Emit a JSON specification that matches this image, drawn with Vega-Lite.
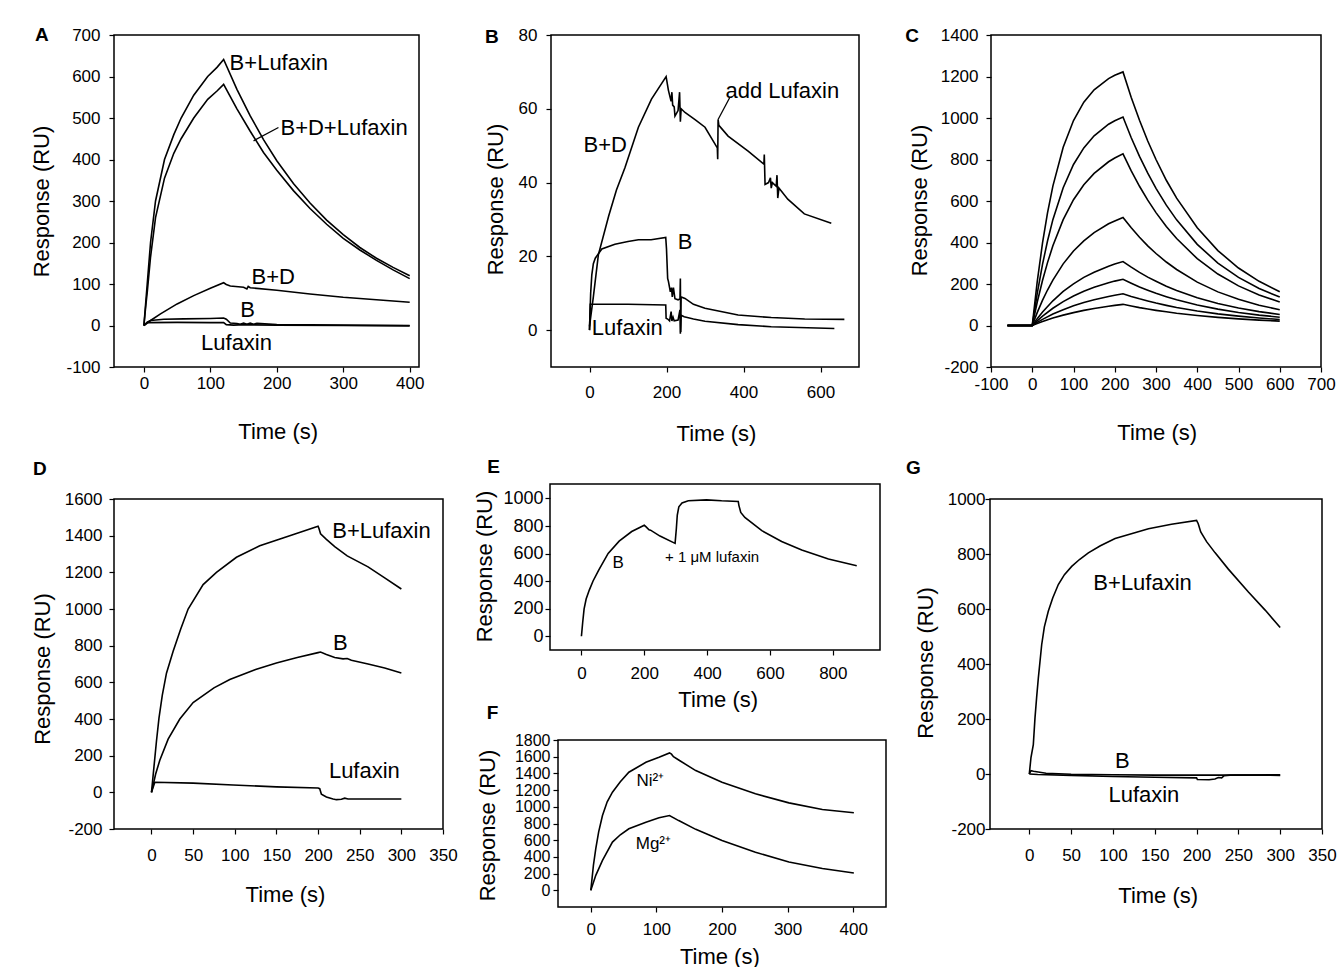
{
  "$schema": "https://vega.github.io/schema/vega-lite/v6.json",
  "background": "white",
  "padding": {"left": 29, "top": 25, "right": 5, "bottom": 0},
  "config": {
    "font": "Liberation Sans",
    "view": {"stroke": "black", "strokeWidth": 1.5},
    "axis": {"grid": false, "domain": false, "ticks": true, "tickColor": "black", "tickSize": 5, "tickWidth": 1.2, "labelColor": "black", "labelFontSize": 17, "labelFont": "Liberation Sans", "titleFont": "Liberation Sans", "titleFontSize": 22, "titleFontWeight": "normal", "titleColor": "black", "titleBaseline": "middle", "labelOverlap": false, "labelFlush": false, "labelBound": false},
    "line": {"color": "black", "strokeWidth": 1.6},
    "rule": {"color": "black", "strokeWidth": 1.3},
    "text": {"color": "black", "font": "Liberation Sans"}
  },
  "datasets": {
    "A": [
      {"s":"a1","t":0,"v":0},{"s":"a1","t":3,"v":60},{"s":"a1","t":5,"v":100},{"s":"a1","t":10,"v":200},{"s":"a1","t":17.5,"v":300},{"s":"a1","t":31,"v":400},{"s":"a1","t":45,"v":460},{"s":"a1","t":56,"v":500},{"s":"a1","t":75,"v":555},{"s":"a1","t":96,"v":600},{"s":"a1","t":110,"v":622},{"s":"a1","t":120,"v":641},{"s":"a1","t":140,"v":569},{"s":"a1","t":160,"v":505},{"s":"a1","t":180,"v":448},{"s":"a1","t":200,"v":397},{"s":"a1","t":225,"v":342},{"s":"a1","t":250,"v":295},{"s":"a1","t":275,"v":254},{"s":"a1","t":300,"v":219},{"s":"a1","t":325,"v":188},{"s":"a1","t":350,"v":162},{"s":"a1","t":375,"v":140},{"s":"a1","t":400,"v":120},
      {"s":"a2","t":0,"v":0},{"s":"a2","t":3,"v":50},{"s":"a2","t":5,"v":80},{"s":"a2","t":10,"v":165},{"s":"a2","t":17.5,"v":260},{"s":"a2","t":31,"v":355},{"s":"a2","t":45,"v":415},{"s":"a2","t":56,"v":450},{"s":"a2","t":75,"v":500},{"s":"a2","t":96,"v":545},{"s":"a2","t":110,"v":565},{"s":"a2","t":120,"v":581},{"s":"a2","t":140,"v":522},{"s":"a2","t":160,"v":468},{"s":"a2","t":180,"v":417},{"s":"a2","t":200,"v":374},{"s":"a2","t":225,"v":325},{"s":"a2","t":250,"v":282},{"s":"a2","t":275,"v":244},{"s":"a2","t":300,"v":210},{"s":"a2","t":325,"v":182},{"s":"a2","t":350,"v":157},{"s":"a2","t":375,"v":134},{"s":"a2","t":400,"v":113},
      {"s":"a3","t":0,"v":0},{"s":"a3","t":10,"v":12},{"s":"a3","t":25,"v":28},{"s":"a3","t":50,"v":52},{"s":"a3","t":75,"v":72},{"s":"a3","t":100,"v":90},{"s":"a3","t":120,"v":103},{"s":"a3","t":124,"v":99},{"s":"a3","t":130,"v":95},{"s":"a3","t":150,"v":92},{"s":"a3","t":155,"v":88},{"s":"a3","t":157,"v":94},{"s":"a3","t":160,"v":91},{"s":"a3","t":200,"v":85},{"s":"a3","t":250,"v":76},{"s":"a3","t":300,"v":68},{"s":"a3","t":350,"v":62},{"s":"a3","t":400,"v":56},
      {"s":"a4","t":0,"v":0},{"s":"a4","t":5,"v":8},{"s":"a4","t":10,"v":12},{"s":"a4","t":30,"v":15},{"s":"a4","t":60,"v":16},{"s":"a4","t":100,"v":17},{"s":"a4","t":120,"v":18},{"s":"a4","t":124,"v":15},{"s":"a4","t":130,"v":6},{"s":"a4","t":140,"v":5},{"s":"a4","t":145,"v":3},{"s":"a4","t":150,"v":6},{"s":"a4","t":155,"v":3},{"s":"a4","t":160,"v":6},{"s":"a4","t":165,"v":3},{"s":"a4","t":170,"v":5},{"s":"a4","t":200,"v":2},{"s":"a4","t":300,"v":1},{"s":"a4","t":400,"v":0},
      {"s":"a5","t":0,"v":0},{"s":"a5","t":5,"v":7},{"s":"a5","t":50,"v":7.5},{"s":"a5","t":100,"v":7},{"s":"a5","t":120,"v":7},{"s":"a5","t":124,"v":2},{"s":"a5","t":135,"v":1},{"s":"a5","t":150,"v":2},{"s":"a5","t":200,"v":0.5},{"s":"a5","t":300,"v":0},{"s":"a5","t":400,"v":-1}
    ],
    "AL": [
      {"label":"B+Lufaxin","t":129,"v":632},
      {"label":"B+D+Lufaxin","t":205.5,"v":475},
      {"label":"B+D","t":162,"v":117},
      {"label":"B","t":145,"v":38},
      {"label":"Lufaxin","t":86,"v":-43}
    ],
    "ALL": [{"t":165,"v":445,"t2":202.5,"v2":477}],
    "B": [
      {"s":"b1","t":0,"v":1},{"s":"b1","t":10,"v":9},{"s":"b1","t":23,"v":20.4},{"s":"b1","t":50,"v":31},{"s":"b1","t":70,"v":38},{"s":"b1","t":92,"v":44},{"s":"b1","t":127,"v":55},{"s":"b1","t":161,"v":62.6},{"s":"b1","t":199,"v":68.7},{"s":"b1","t":205,"v":65},{"s":"b1","t":212,"v":62},{"s":"b1","t":214,"v":64.5},{"s":"b1","t":216,"v":61},{"s":"b1","t":220,"v":60.5},{"s":"b1","t":222,"v":58},{"s":"b1","t":230,"v":59.5},{"s":"b1","t":234,"v":64.5},{"s":"b1","t":236,"v":56.5},{"s":"b1","t":238,"v":60},{"s":"b1","t":248,"v":59},{"s":"b1","t":275,"v":57},{"s":"b1","t":300,"v":55},{"s":"b1","t":332,"v":49.4},{"s":"b1","t":333,"v":46.3},{"s":"b1","t":334,"v":57.1},{"s":"b1","t":336,"v":55.5},{"s":"b1","t":360,"v":52.6},{"s":"b1","t":412,"v":48.5},{"s":"b1","t":453,"v":45},{"s":"b1","t":454,"v":47.6},{"s":"b1","t":456,"v":39.5},{"s":"b1","t":465,"v":40},{"s":"b1","t":470,"v":41.3},{"s":"b1","t":472,"v":38.5},{"s":"b1","t":475,"v":40},{"s":"b1","t":485,"v":39},{"s":"b1","t":487,"v":42},{"s":"b1","t":489,"v":35.8},{"s":"b1","t":492,"v":38.5},{"s":"b1","t":515,"v":35.5},{"s":"b1","t":558,"v":31.5},{"s":"b1","t":628,"v":29},
      {"s":"b2","t":0,"v":0},{"s":"b2","t":3,"v":10},{"s":"b2","t":6,"v":15},{"s":"b2","t":10,"v":18},{"s":"b2","t":15,"v":19.5},{"s":"b2","t":32,"v":22},{"s":"b2","t":66,"v":23.3},{"s":"b2","t":100,"v":24},{"s":"b2","t":127,"v":24.5},{"s":"b2","t":160,"v":24.5},{"s":"b2","t":198,"v":25.1},{"s":"b2","t":200,"v":22},{"s":"b2","t":203,"v":14},{"s":"b2","t":205,"v":13.2},{"s":"b2","t":210,"v":10.4},{"s":"b2","t":213,"v":11.5},{"s":"b2","t":215,"v":9},{"s":"b2","t":218,"v":11.5},{"s":"b2","t":222,"v":8.5},{"s":"b2","t":230,"v":8.2},{"s":"b2","t":235,"v":8.5},{"s":"b2","t":236,"v":14},{"s":"b2","t":237,"v":-0.5},{"s":"b2","t":238,"v":9},{"s":"b2","t":248,"v":8.6},{"s":"b2","t":270,"v":7},{"s":"b2","t":300,"v":5.9},{"s":"b2","t":386,"v":4.1},{"s":"b2","t":472,"v":3.4},{"s":"b2","t":559,"v":3},{"s":"b2","t":662,"v":2.9},
      {"s":"b3","t":0,"v":0},{"s":"b3","t":2,"v":7},{"s":"b3","t":20,"v":7},{"s":"b3","t":100,"v":7},{"s":"b3","t":198,"v":6.8},{"s":"b3","t":199,"v":3.2},{"s":"b3","t":203,"v":3},{"s":"b3","t":208,"v":2.5},{"s":"b3","t":212,"v":5},{"s":"b3","t":214,"v":2.5},{"s":"b3","t":217,"v":3.5},{"s":"b3","t":220,"v":2.5},{"s":"b3","t":230,"v":2.7},{"s":"b3","t":235,"v":5.5},{"s":"b3","t":236,"v":-1},{"s":"b3","t":238,"v":4},{"s":"b3","t":246,"v":3.6},{"s":"b3","t":270,"v":3},{"s":"b3","t":300,"v":2.4},{"s":"b3","t":386,"v":1.5},{"s":"b3","t":472,"v":0.9},{"s":"b3","t":636,"v":0.45}
    ],
    "BL": [
      {"label":"B+D","t":-15.5,"v":50.2},
      {"label":"add Lufaxin","t":353,"v":64.7},
      {"label":"B","t":229,"v":24},
      {"label":"Lufaxin","t":6,"v":0.6}
    ],
    "BLL": [{"t":334,"v":57.1,"t2":365,"v2":63.2}],
    "C": [
      {"s":"c1","t":-60,"v":0},{"s":"c1","t":0,"v":0},{"s":"c1","t":12,"v":210},{"s":"c1","t":25,"v":399},{"s":"c1","t":37,"v":543},{"s":"c1","t":50,"v":672},{"s":"c1","t":75,"v":859},{"s":"c1","t":100,"v":988},{"s":"c1","t":125,"v":1076},{"s":"c1","t":150,"v":1136},{"s":"c1","t":185,"v":1190},{"s":"c1","t":200,"v":1206},{"s":"c1","t":220,"v":1222},{"s":"c1","t":240,"v":1099},{"s":"c1","t":260,"v":989},{"s":"c1","t":280,"v":889},{"s":"c1","t":300,"v":800},{"s":"c1","t":325,"v":700},{"s":"c1","t":350,"v":614},{"s":"c1","t":400,"v":471},{"s":"c1","t":450,"v":361},{"s":"c1","t":500,"v":277},{"s":"c1","t":550,"v":213},{"s":"c1","t":600,"v":163},
      {"s":"c2","t":-60,"v":0},{"s":"c2","t":0,"v":0},{"s":"c2","t":12,"v":154},{"s":"c2","t":25,"v":296},{"s":"c2","t":37,"v":407},{"s":"c2","t":50,"v":510},{"s":"c2","t":75,"v":664},{"s":"c2","t":100,"v":776},{"s":"c2","t":125,"v":856},{"s":"c2","t":150,"v":914},{"s":"c2","t":185,"v":970},{"s":"c2","t":200,"v":987},{"s":"c2","t":220,"v":1005},{"s":"c2","t":240,"v":905},{"s":"c2","t":260,"v":815},{"s":"c2","t":280,"v":734},{"s":"c2","t":300,"v":661},{"s":"c2","t":325,"v":580},{"s":"c2","t":350,"v":509},{"s":"c2","t":400,"v":391},{"s":"c2","t":450,"v":301},{"s":"c2","t":500,"v":232},{"s":"c2","t":550,"v":178},{"s":"c2","t":600,"v":137},
      {"s":"c3","t":-60,"v":0},{"s":"c3","t":0,"v":0},{"s":"c3","t":12,"v":112},{"s":"c3","t":25,"v":218},{"s":"c3","t":37,"v":303},{"s":"c3","t":50,"v":384},{"s":"c3","t":75,"v":510},{"s":"c3","t":100,"v":606},{"s":"c3","t":125,"v":678},{"s":"c3","t":150,"v":733},{"s":"c3","t":185,"v":789},{"s":"c3","t":200,"v":807},{"s":"c3","t":220,"v":827},{"s":"c3","t":240,"v":745},{"s":"c3","t":260,"v":671},{"s":"c3","t":280,"v":604},{"s":"c3","t":300,"v":544},{"s":"c3","t":325,"v":477},{"s":"c3","t":350,"v":419},{"s":"c3","t":400,"v":322},{"s":"c3","t":450,"v":248},{"s":"c3","t":500,"v":191},{"s":"c3","t":550,"v":147},{"s":"c3","t":600,"v":113},
      {"s":"c4","t":-60,"v":0},{"s":"c4","t":0,"v":0},{"s":"c4","t":12,"v":62},{"s":"c4","t":25,"v":122},{"s":"c4","t":37,"v":171},{"s":"c4","t":50,"v":219},{"s":"c4","t":75,"v":297},{"s":"c4","t":100,"v":359},{"s":"c4","t":125,"v":408},{"s":"c4","t":150,"v":448},{"s":"c4","t":185,"v":490},{"s":"c4","t":200,"v":504},{"s":"c4","t":220,"v":521},{"s":"c4","t":240,"v":471},{"s":"c4","t":260,"v":425},{"s":"c4","t":280,"v":384},{"s":"c4","t":300,"v":347},{"s":"c4","t":325,"v":306},{"s":"c4","t":350,"v":270},{"s":"c4","t":400,"v":209},{"s":"c4","t":450,"v":162},{"s":"c4","t":500,"v":126},{"s":"c4","t":550,"v":98},{"s":"c4","t":600,"v":76},
      {"s":"c5","t":-60,"v":0},{"s":"c5","t":0,"v":0},{"s":"c5","t":12,"v":33},{"s":"c5","t":25,"v":65},{"s":"c5","t":50,"v":119},{"s":"c5","t":75,"v":164},{"s":"c5","t":100,"v":201},{"s":"c5","t":125,"v":232},{"s":"c5","t":150,"v":257},{"s":"c5","t":185,"v":286},{"s":"c5","t":200,"v":296},{"s":"c5","t":220,"v":308},{"s":"c5","t":240,"v":281},{"s":"c5","t":260,"v":256},{"s":"c5","t":280,"v":233},{"s":"c5","t":300,"v":213},{"s":"c5","t":325,"v":189},{"s":"c5","t":350,"v":169},{"s":"c5","t":400,"v":134},{"s":"c5","t":450,"v":106},{"s":"c5","t":500,"v":84},{"s":"c5","t":550,"v":67},{"s":"c5","t":600,"v":53},
      {"s":"c6","t":-60,"v":0},{"s":"c6","t":0,"v":0},{"s":"c6","t":12,"v":22.5},{"s":"c6","t":25,"v":45},{"s":"c6","t":50,"v":83},{"s":"c6","t":75,"v":115},{"s":"c6","t":100,"v":142},{"s":"c6","t":125,"v":165},{"s":"c6","t":150,"v":184},{"s":"c6","t":185,"v":206},{"s":"c6","t":200,"v":214},{"s":"c6","t":220,"v":223},{"s":"c6","t":240,"v":204},{"s":"c6","t":260,"v":186},{"s":"c6","t":280,"v":170},{"s":"c6","t":300,"v":155},{"s":"c6","t":325,"v":139},{"s":"c6","t":350,"v":124},{"s":"c6","t":400,"v":99},{"s":"c6","t":450,"v":79},{"s":"c6","t":500,"v":63},{"s":"c6","t":550,"v":50},{"s":"c6","t":600,"v":40},
      {"s":"c7","t":-60,"v":0},{"s":"c7","t":0,"v":0},{"s":"c7","t":12,"v":15},{"s":"c7","t":25,"v":29.5},{"s":"c7","t":50,"v":55},{"s":"c7","t":75,"v":76},{"s":"c7","t":100,"v":95},{"s":"c7","t":125,"v":111},{"s":"c7","t":150,"v":124},{"s":"c7","t":185,"v":140},{"s":"c7","t":200,"v":146},{"s":"c7","t":220,"v":153},{"s":"c7","t":240,"v":140},{"s":"c7","t":260,"v":128.5},{"s":"c7","t":280,"v":118},{"s":"c7","t":300,"v":108},{"s":"c7","t":325,"v":97},{"s":"c7","t":350,"v":87},{"s":"c7","t":400,"v":70},{"s":"c7","t":450,"v":56},{"s":"c7","t":500,"v":45},{"s":"c7","t":550,"v":36},{"s":"c7","t":600,"v":29},
      {"s":"c8","t":-60,"v":0},{"s":"c8","t":0,"v":0},{"s":"c8","t":12,"v":9.5},{"s":"c8","t":25,"v":19},{"s":"c8","t":50,"v":36},{"s":"c8","t":75,"v":50},{"s":"c8","t":100,"v":62},{"s":"c8","t":125,"v":73},{"s":"c8","t":150,"v":82},{"s":"c8","t":185,"v":93},{"s":"c8","t":200,"v":97},{"s":"c8","t":220,"v":102},{"s":"c8","t":240,"v":94},{"s":"c8","t":260,"v":86},{"s":"c8","t":280,"v":79.5},{"s":"c8","t":300,"v":73},{"s":"c8","t":325,"v":66},{"s":"c8","t":350,"v":59},{"s":"c8","t":400,"v":48},{"s":"c8","t":450,"v":39},{"s":"c8","t":500,"v":32},{"s":"c8","t":550,"v":26},{"s":"c8","t":600,"v":21}
    ],
    "D": [
      {"s":"d1","t":0,"v":0},{"s":"d1","t":3,"v":140},{"s":"d1","t":6,"v":280},{"s":"d1","t":9,"v":405},{"s":"d1","t":13,"v":530},{"s":"d1","t":18,"v":650},{"s":"d1","t":26,"v":769},{"s":"d1","t":35,"v":890},{"s":"d1","t":44,"v":1000},{"s":"d1","t":62,"v":1133},{"s":"d1","t":78,"v":1200},{"s":"d1","t":102,"v":1282},{"s":"d1","t":130,"v":1345},{"s":"d1","t":166,"v":1400},{"s":"d1","t":200,"v":1451},{"s":"d1","t":201,"v":1440},{"s":"d1","t":203,"v":1410},{"s":"d1","t":210,"v":1380},{"s":"d1","t":220,"v":1340},{"s":"d1","t":235,"v":1290},{"s":"d1","t":260,"v":1230},{"s":"d1","t":280,"v":1170},{"s":"d1","t":300,"v":1109},
      {"s":"d2","t":0,"v":0},{"s":"d2","t":5,"v":100},{"s":"d2","t":10,"v":175},{"s":"d2","t":20,"v":290},{"s":"d2","t":34,"v":400},{"s":"d2","t":50,"v":490},{"s":"d2","t":75,"v":570},{"s":"d2","t":94,"v":615},{"s":"d2","t":125,"v":670},{"s":"d2","t":150,"v":705},{"s":"d2","t":175,"v":735},{"s":"d2","t":200,"v":762},{"s":"d2","t":203,"v":765},{"s":"d2","t":210,"v":752},{"s":"d2","t":220,"v":735},{"s":"d2","t":230,"v":728},{"s":"d2","t":235,"v":730},{"s":"d2","t":240,"v":720},{"s":"d2","t":260,"v":700},{"s":"d2","t":280,"v":678},{"s":"d2","t":300,"v":651},
      {"s":"d3","t":0,"v":0},{"s":"d3","t":4,"v":55},{"s":"d3","t":50,"v":50},{"s":"d3","t":98,"v":40},{"s":"d3","t":150,"v":30},{"s":"d3","t":200,"v":24},{"s":"d3","t":202,"v":20},{"s":"d3","t":204,"v":-10},{"s":"d3","t":210,"v":-25},{"s":"d3","t":218,"v":-36},{"s":"d3","t":222,"v":-40},{"s":"d3","t":228,"v":-38},{"s":"d3","t":232,"v":-32},{"s":"d3","t":236,"v":-36},{"s":"d3","t":300,"v":-36}
    ],
    "DL": [
      {"label":"B+Lufaxin","t":217,"v":1424},
      {"label":"B","t":218,"v":815},
      {"label":"Lufaxin","t":213,"v":115}
    ],
    "E": [
      {"s":"e1","t":0,"v":0},{"s":"e1","t":4,"v":100},{"s":"e1","t":8.5,"v":198},{"s":"e1","t":15,"v":270},{"s":"e1","t":25,"v":335},{"s":"e1","t":37,"v":401},{"s":"e1","t":55,"v":480},{"s":"e1","t":85,"v":601},{"s":"e1","t":120,"v":690},{"s":"e1","t":160,"v":760},{"s":"e1","t":200,"v":805},{"s":"e1","t":205,"v":795},{"s":"e1","t":215,"v":772},{"s":"e1","t":220,"v":770},{"s":"e1","t":250,"v":727},{"s":"e1","t":298,"v":674},{"s":"e1","t":302,"v":780},{"s":"e1","t":305,"v":880},{"s":"e1","t":310,"v":940},{"s":"e1","t":320,"v":968},{"s":"e1","t":340,"v":983},{"s":"e1","t":398,"v":990},{"s":"e1","t":446,"v":983},{"s":"e1","t":499,"v":978},{"s":"e1","t":501,"v":950},{"s":"e1","t":507,"v":899},{"s":"e1","t":520,"v":862},{"s":"e1","t":574,"v":766},{"s":"e1","t":637,"v":688},{"s":"e1","t":701,"v":626},{"s":"e1","t":786,"v":560},{"s":"e1","t":876,"v":512}
    ],
    "F": [
      {"s":"f1","t":0,"v":0},{"s":"f1","t":4,"v":300},{"s":"f1","t":7.6,"v":498},{"s":"f1","t":12,"v":700},{"s":"f1","t":17.8,"v":896},{"s":"f1","t":25,"v":1060},{"s":"f1","t":33,"v":1175},{"s":"f1","t":45,"v":1300},{"s":"f1","t":58,"v":1414},{"s":"f1","t":84,"v":1533},{"s":"f1","t":104,"v":1593},{"s":"f1","t":120,"v":1645},{"s":"f1","t":123,"v":1630},{"s":"f1","t":126,"v":1600},{"s":"f1","t":134,"v":1560},{"s":"f1","t":160,"v":1434},{"s":"f1","t":200,"v":1294},{"s":"f1","t":251,"v":1155},{"s":"f1","t":302,"v":1047},{"s":"f1","t":353,"v":968},{"s":"f1","t":401,"v":928},
      {"s":"f2","t":0,"v":0},{"s":"f2","t":7.6,"v":179},{"s":"f2","t":17.8,"v":358},{"s":"f2","t":33,"v":577},{"s":"f2","t":45,"v":665},{"s":"f2","t":58,"v":737},{"s":"f2","t":84,"v":816},{"s":"f2","t":104,"v":868},{"s":"f2","t":120,"v":896},{"s":"f2","t":134,"v":835},{"s":"f2","t":160,"v":730},{"s":"f2","t":200,"v":597},{"s":"f2","t":251,"v":455},{"s":"f2","t":302,"v":339},{"s":"f2","t":353,"v":262},{"s":"f2","t":401,"v":207}
    ],
    "G": [
      {"s":"g1","t":0,"v":0},{"s":"g1","t":2,"v":60},{"s":"g1","t":4.8,"v":107},{"s":"g1","t":6.8,"v":204},{"s":"g1","t":8.8,"v":280},{"s":"g1","t":10.8,"v":349},{"s":"g1","t":14.8,"v":470},{"s":"g1","t":18,"v":535},{"s":"g1","t":22.7,"v":592},{"s":"g1","t":28,"v":640},{"s":"g1","t":34.7,"v":689},{"s":"g1","t":42,"v":725},{"s":"g1","t":50.7,"v":755},{"s":"g1","t":60,"v":780},{"s":"g1","t":70.6,"v":804},{"s":"g1","t":85,"v":830},{"s":"g1","t":102.6,"v":856},{"s":"g1","t":120,"v":872},{"s":"g1","t":142.5,"v":892},{"s":"g1","t":170,"v":908},{"s":"g1","t":200,"v":922},{"s":"g1","t":202,"v":910},{"s":"g1","t":205,"v":880},{"s":"g1","t":212,"v":845},{"s":"g1","t":222,"v":805},{"s":"g1","t":238,"v":745},{"s":"g1","t":262,"v":662},{"s":"g1","t":282,"v":596},{"s":"g1","t":300,"v":533},
      {"s":"g2","t":0,"v":0},{"s":"g2","t":2,"v":12},{"s":"g2","t":5,"v":10},{"s":"g2","t":20,"v":3},{"s":"g2","t":50,"v":-1},{"s":"g2","t":100,"v":-3},{"s":"g2","t":150,"v":-4},{"s":"g2","t":200,"v":-4},{"s":"g2","t":250,"v":-4},{"s":"g2","t":300,"v":-5},
      {"s":"g3","t":0,"v":0},{"s":"g3","t":10,"v":-2},{"s":"g3","t":50,"v":-5},{"s":"g3","t":100,"v":-9},{"s":"g3","t":150,"v":-12},{"s":"g3","t":200,"v":-14},{"s":"g3","t":201,"v":-20},{"s":"g3","t":215,"v":-21},{"s":"g3","t":222,"v":-18},{"s":"g3","t":226,"v":-13},{"s":"g3","t":230,"v":-14},{"s":"g3","t":233,"v":-6},{"s":"g3","t":240,"v":-4},{"s":"g3","t":300,"v":-3}
    ],
    "GL": [
      {"label":"B+Lufaxin","t":76.6,"v":695},
      {"label":"B","t":102.6,"v":48},
      {"label":"Lufaxin","t":94.6,"v":-75}
    ],
    "LET": [
      {"label":"A","t":-153.7,"v":700},
      {"label":"B","t":-253.9,"v":79.4},
      {"label":"C","t":-291.5,"v":1395},
      {"label":"D","t":-134.1,"v":1762},
      {"label":"E","t":-279.8,"v":1229.7},
      {"label":"F","t":-283,"v":-560},
      {"label":"G","t":-138.6,"v":1111.6}
    ]
  },
  "vconcat": [
    {
      "hconcat": [
        {
          "width": 305, "height": 332,
          "encoding": {
            "x": {"field": "t", "type": "quantitative", "scale": {"domain": [-45, 414], "nice": false, "zero": false}, "axis": {"values": [0, 100, 200, 300, 400], "title": "Time (s)", "titleX": 163.7, "titleY": 64, "labelPadding": 3, "labelExpr": "'' + datum.value"}},
            "y": {"field": "v", "type": "quantitative", "scale": {"domain": [-100, 700], "nice": false, "zero": false}, "axis": {"values": [-100, 0, 100, 200, 300, 400, 500, 600, 700], "title": "Response (RU)", "titleX": -73, "titleY": 166, "labelPadding": 9, "labelExpr": "'' + datum.value"}}
          },
          "layer": [
            {"data": {"name": "A"}, "mark": {"type": "line"}, "encoding": {"detail": {"field": "s", "type": "nominal"}}},
            {"data": {"name": "AL"}, "mark": {"type": "text", "align": "left", "baseline": "middle", "fontSize": 22}, "encoding": {"text": {"field": "label"}}},
            {"data": {"name": "ALL"}, "mark": {"type": "rule"}, "encoding": {"x2": {"field": "t2"}, "y2": {"field": "v2"}}},
            {"data": {"name": "LET"}, "transform": [{"filter": "datum.label == 'A'"}], "mark": {"type": "text", "align": "center", "baseline": "middle", "fontSize": 19, "fontWeight": "bold"}, "encoding": {"text": {"field": "label"}}}
          ]
        },
        {
          "width": 308, "height": 332,
          "encoding": {
            "x": {"field": "t", "type": "quantitative", "scale": {"domain": [-100, 700], "nice": false, "zero": false}, "axis": {"values": [0, 200, 400, 600], "title": "Time (s)", "titleX": 165, "titleY": 66, "labelPadding": 12, "labelExpr": "'' + datum.value"}},
            "y": {"field": "v", "type": "quantitative", "scale": {"domain": [-10, 80], "nice": false, "zero": false}, "axis": {"values": [0, 20, 40, 60, 80], "title": "Response (RU)", "titleX": -56, "titleY": 164, "labelPadding": 9, "labelExpr": "'' + datum.value"}}
          },
          "layer": [
            {"data": {"name": "B"}, "mark": {"type": "line"}, "encoding": {"detail": {"field": "s", "type": "nominal"}}},
            {"data": {"name": "BL"}, "mark": {"type": "text", "align": "left", "baseline": "middle", "fontSize": 22}, "encoding": {"text": {"field": "label"}}},
            {"data": {"name": "BLL"}, "mark": {"type": "rule"}, "encoding": {"x2": {"field": "t2"}, "y2": {"field": "v2"}}},
            {"data": {"name": "LET"}, "transform": [{"filter": "datum.label == 'B'"}], "mark": {"type": "text", "align": "center", "baseline": "middle", "fontSize": 19, "fontWeight": "bold"}, "encoding": {"text": {"field": "label"}}}
          ]
        },
        {
          "width": 330, "height": 332,
          "encoding": {
            "x": {"field": "t", "type": "quantitative", "scale": {"domain": [-100, 700], "nice": false, "zero": false}, "axis": {"values": [-100, 0, 100, 200, 300, 400, 500, 600, 700], "title": "Time (s)", "titleX": 165.7, "titleY": 65, "labelPadding": 4, "labelExpr": "'' + datum.value"}},
            "y": {"field": "v", "type": "quantitative", "scale": {"domain": [-200, 1400], "nice": false, "zero": false}, "axis": {"values": [-200, 0, 200, 400, 600, 800, 1000, 1200, 1400], "title": "Response (RU)", "titleX": -71.5, "titleY": 165, "labelPadding": 8, "labelExpr": "'' + datum.value"}}
          },
          "layer": [
            {"data": {"name": "C"}, "mark": {"type": "line"}, "encoding": {"detail": {"field": "s", "type": "nominal"}}},
            {"data": {"name": "LET"}, "transform": [{"filter": "datum.label == 'C'"}], "mark": {"type": "text", "align": "center", "baseline": "middle", "fontSize": 19, "fontWeight": "bold"}, "encoding": {"text": {"field": "label"}}}
          ]
        }
      ],
      "spacing": 132,
      "bounds": "flush"
    },
    {
      "hconcat": [
        {
          "hconcat": [
            {
              "vconcat": [
                {"width": 1, "height": 15, "data": {"values": []}, "mark": {"type": "point", "opacity": 0}, "view": {"stroke": null}},
                {
                  "width": 329, "height": 330,
                  "encoding": {
                    "x": {"field": "t", "type": "quantitative", "scale": {"domain": [-45, 350], "nice": false, "zero": false}, "axis": {"values": [0, 50, 100, 150, 200, 250, 300, 350], "title": "Time (s)", "titleX": 171, "titleY": 65, "labelPadding": 13, "labelExpr": "'' + datum.value"}},
                    "y": {"field": "v", "type": "quantitative", "scale": {"domain": [-200, 1600], "nice": false, "zero": false}, "axis": {"values": [-200, 0, 200, 400, 600, 800, 1000, 1200, 1400, 1600], "title": "Response (RU)", "titleX": -71.5, "titleY": 169.5, "labelPadding": 7, "labelExpr": "'' + datum.value"}}
                  },
                  "layer": [
                    {"data": {"name": "D"}, "mark": {"type": "line"}, "encoding": {"detail": {"field": "s", "type": "nominal"}}},
                    {"data": {"name": "DL"}, "mark": {"type": "text", "align": "left", "baseline": "middle", "fontSize": 22}, "encoding": {"text": {"field": "label"}}},
                    {"data": {"name": "LET"}, "transform": [{"filter": "datum.label == 'D'"}], "mark": {"type": "text", "align": "center", "baseline": "middle", "fontSize": 19, "fontWeight": "bold"}, "encoding": {"text": {"field": "label"}}}
                  ]
                }
              ],
              "spacing": 0,
              "bounds": "flush"
            },
            {
              "vconcat": [
                {
                  "width": 330, "height": 166,
                  "encoding": {
                    "x": {"field": "t", "type": "quantitative", "scale": {"domain": [-100, 950], "nice": false, "zero": false}, "axis": {"values": [0, 200, 400, 600, 800], "title": "Time (s)", "titleX": 167.7, "titleY": 49, "labelPadding": 10, "labelExpr": "'' + datum.value"}},
                    "y": {"field": "v", "type": "quantitative", "scale": {"domain": [-100, 1105], "nice": false, "zero": false}, "axis": {"values": [0, 200, 400, 600, 800, 1000], "title": "Response (RU)", "titleX": -66, "titleY": 82, "labelPadding": 2, "labelFontSize": 18, "labelExpr": "'' + datum.value"}}
                  },
                  "layer": [
                    {"data": {"name": "E"}, "mark": {"type": "line"}, "encoding": {"detail": {"field": "s", "type": "nominal"}}},
                    {"data": {"values": [{"label": "B", "t": 99, "v": 529}]}, "mark": {"type": "text", "align": "left", "baseline": "middle", "fontSize": 17}, "encoding": {"text": {"field": "label"}}},
                    {"data": {"values": [{"label": "+ 1 μM lufaxin", "t": 266, "v": 572}]}, "mark": {"type": "text", "align": "left", "baseline": "middle", "fontSize": 15}, "encoding": {"text": {"field": "label"}}},
                    {"data": {"name": "LET"}, "transform": [{"filter": "datum.label == 'E' || datum.label == 'F'"}], "mark": {"type": "text", "align": "center", "baseline": "middle", "fontSize": 19, "fontWeight": "bold"}, "encoding": {"text": {"field": "label"}}}
                  ]
                },
                {
                  "hconcat": [
                    {"width": 8, "height": 1, "data": {"values": []}, "mark": {"type": "point", "opacity": 0}, "view": {"stroke": null}},
                    {
                      "width": 328, "height": 167,
                      "encoding": {
                        "x": {"field": "t", "type": "quantitative", "scale": {"domain": [-50, 450], "nice": false, "zero": false}, "axis": {"values": [0, 100, 200, 300, 400], "title": "Time (s)", "titleX": 161.3, "titleY": 49, "labelPadding": 9, "labelExpr": "'' + datum.value"}},
                        "y": {"field": "v", "type": "quantitative", "scale": {"domain": [-200, 1800], "nice": false, "zero": false}, "axis": {"values": [0, 200, 400, 600, 800, 1000, 1200, 1400, 1600, 1800], "title": "Response (RU)", "titleX": -71, "titleY": 85, "labelPadding": 3, "labelFontSize": 16, "labelExpr": "'' + datum.value"}}
                      },
                      "layer": [
                        {"data": {"name": "F"}, "mark": {"type": "line"}, "encoding": {"detail": {"field": "s", "type": "nominal"}}},
                        {"data": {"values": [{"label": "Ni²⁺", "t": 69.5, "v": 1314}, {"label": "Mg²⁺", "t": 68.5, "v": 557}]}, "mark": {"type": "text", "align": "left", "baseline": "middle", "fontSize": 17}, "encoding": {"text": {"field": "label"}}}
                      ]
                    }
                  ],
                  "spacing": 0,
                  "bounds": "flush"
                }
              ],
              "spacing": 6,
              "bounds": "full"
            }
          ],
          "spacing": 14,
          "bounds": "full"
        },
        {
          "vconcat": [
            {"width": 1, "height": 15, "data": {"values": []}, "mark": {"type": "point", "opacity": 0}, "view": {"stroke": null}},
            {
              "width": 332, "height": 330,
              "encoding": {
                "x": {"field": "t", "type": "quantitative", "scale": {"domain": [-47, 350], "nice": false, "zero": false}, "axis": {"values": [0, 50, 100, 150, 200, 250, 300, 350], "title": "Time (s)", "titleX": 167.7, "titleY": 66, "labelPadding": 13, "labelExpr": "'' + datum.value"}},
                "y": {"field": "v", "type": "quantitative", "scale": {"domain": [-200, 1000], "nice": false, "zero": false}, "axis": {"values": [-200, 0, 200, 400, 600, 800, 1000], "title": "Response (RU)", "titleX": -65, "titleY": 163.5, "labelPadding": 0, "labelExpr": "'' + datum.value"}}
              },
              "layer": [
                {"data": {"name": "G"}, "mark": {"type": "line"}, "encoding": {"detail": {"field": "s", "type": "nominal"}}},
                {"data": {"name": "GL"}, "mark": {"type": "text", "align": "left", "baseline": "middle", "fontSize": 22}, "encoding": {"text": {"field": "label"}}},
                {"data": {"name": "LET"}, "transform": [{"filter": "datum.label == 'G'"}], "mark": {"type": "text", "align": "center", "baseline": "middle", "fontSize": 19, "fontWeight": "bold"}, "encoding": {"text": {"field": "label"}}}
              ]
            }
          ],
          "spacing": 0,
          "bounds": "flush"
        }
      ],
      "spacing": 18,
      "bounds": "full"
    }
  ],
  "spacing": 12,
  "bounds": "full"
}
